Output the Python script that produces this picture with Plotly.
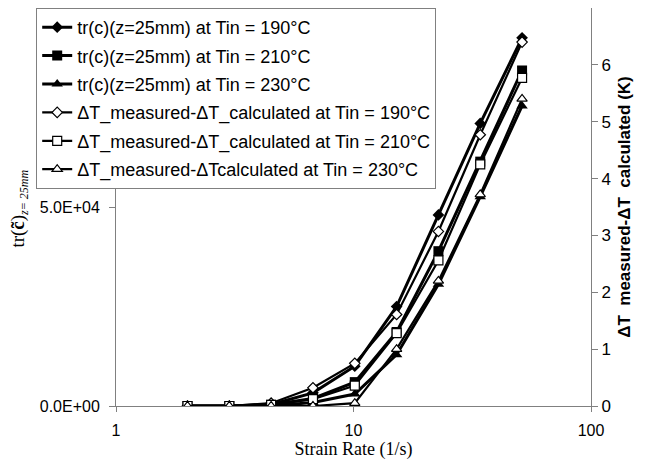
import plotly.graph_objects as go

strain_rate = [2, 3, 4.5, 6.75, 10.125, 15.19, 22.78, 34.17, 51.26]

# tr(c) values (left axis)
tr_190 = [0, 0, 400, 3300, 10000, 25000, 48000, 71000, 92500]
tr_210 = [0, 0, 300, 1900, 6000, 18600, 38900, 61400, 84300]
tr_230 = [0, 0, 0, 900, 3000, 12900, 30600, 52600, 75400]

# dT measured - dT calculated (right axis, K)
dt_190 = [0, 0, 0.05, 0.32, 0.75, 1.61, 3.07, 4.77, 6.40]
dt_210 = [0, 0, 0.02, 0.12, 0.36, 1.28, 2.56, 4.25, 5.77]
dt_230 = [0, 0, 0, 0.0, 0.05, 1.0, 2.2, 3.72, 5.40]

names_tr = ["tr(c)(z=25mm) at Tin = 190°C",
            "tr(c)(z=25mm) at Tin = 210°C",
            "tr(c)(z=25mm) at Tin = 230°C"]
names_dt = ["ΔT_measured-ΔT_calculated at Tin = 190°C",
            "ΔT_measured-ΔT_calculated at Tin = 210°C",
            "ΔT_measured-ΔTcalculated at Tin = 230°C"]

left_ticks = [0, 50000]
left_ticktext = ["0.0E+00", "5.0E+04"]
right_ticks = [0, 1, 2, 3, 4, 5, 6]
x_ticks = [1, 10, 100]

fig = go.Figure()
symbols = ["diamond", "square", "triangle-up"]
sizes = [9, 10, 10]
for i, (ys, nm) in enumerate(zip([tr_190, tr_210, tr_230], names_tr)):
    fig.add_trace(go.Scatter(
        x=strain_rate, y=ys, name=nm, mode="lines+markers", yaxis="y",
        line=dict(color="black", width=3),
        marker=dict(symbol=symbols[i], size=sizes[i], color="black"),
        legendgroup=f"g{i}"))
for i, (ys, nm) in enumerate(zip([dt_190, dt_210, dt_230], names_dt)):
    fig.add_trace(go.Scatter(
        x=strain_rate, y=ys, name=nm, mode="lines+markers", yaxis="y2",
        line=dict(color="black", width=2.2),
        marker=dict(symbol=symbols[i], size=sizes[i] - 1, color="white",
                    line=dict(color="black", width=1.2)),
        legendgroup=f"h{i}"))

axis_grey = "#808080"
fig.update_layout(
    width=645, height=463,
    margin=dict(l=108, r=62, t=0, b=65, autoexpand=False),
    paper_bgcolor="white", plot_bgcolor="white",
    showlegend=True,
    legend=dict(x=-0.168, y=1.0, xanchor="left", yanchor="top",
                bgcolor="white", bordercolor=axis_grey, borderwidth=1,
                font=dict(family="Liberation Sans, Arial", size=18, color="black"),
                traceorder="grouped", tracegroupgap=2, itemwidth=30),
    xaxis=dict(type="log", range=[0, 2], tickvals=x_ticks, ticktext=["1", "10", "100"],
               showgrid=False, zeroline=False, showline=True, linecolor=axis_grey,
               linewidth=1, ticks="outside", tickcolor=axis_grey, ticklen=5,
               ticklabelstandoff=5,
               tickfont=dict(family="Liberation Sans, Arial", size=16, color="black"),
               title=dict(text="Strain Rate (1/s)", standoff=0,
                          font=dict(family="Liberation Serif, Times New Roman", size=18, color="black"))),
    yaxis=dict(range=[0, 100000], tickvals=left_ticks, ticktext=left_ticktext,
               showgrid=False, zeroline=False, showline=True, linecolor=axis_grey,
               linewidth=1, ticks="outside", tickcolor=axis_grey, ticklen=6,
               ticklabelstandoff=6,
               tickfont=dict(family="Liberation Sans, Arial", size=16, color="black")),
    yaxis2=dict(range=[0, 7], tickvals=right_ticks, overlaying="y", side="right",
                showgrid=False, zeroline=False, showline=True, linecolor=axis_grey,
                linewidth=1, ticks="outside", tickcolor=axis_grey, ticklen=6,
                tickfont=dict(family="Liberation Sans, Arial", size=17, color="black"),
                title=dict(text="<b>ΔT  measured-ΔT  calculated (K)</b>", standoff=8,
                           font=dict(family="Liberation Sans, Arial", size=17, color="black"))),
    annotations=[dict(
        text="tr(<b>c̃</b>)<sub><span style='font-size:12px'><i>z= 25mm</i></span></sub>",
        xref="paper", yref="paper", x=-0.205, y=0.495, xanchor="center", yanchor="middle",
        textangle=-90, showarrow=False,
        font=dict(family="Liberation Serif, Times New Roman", size=19, color="black"))],
)

fig.write_html("out.html")
